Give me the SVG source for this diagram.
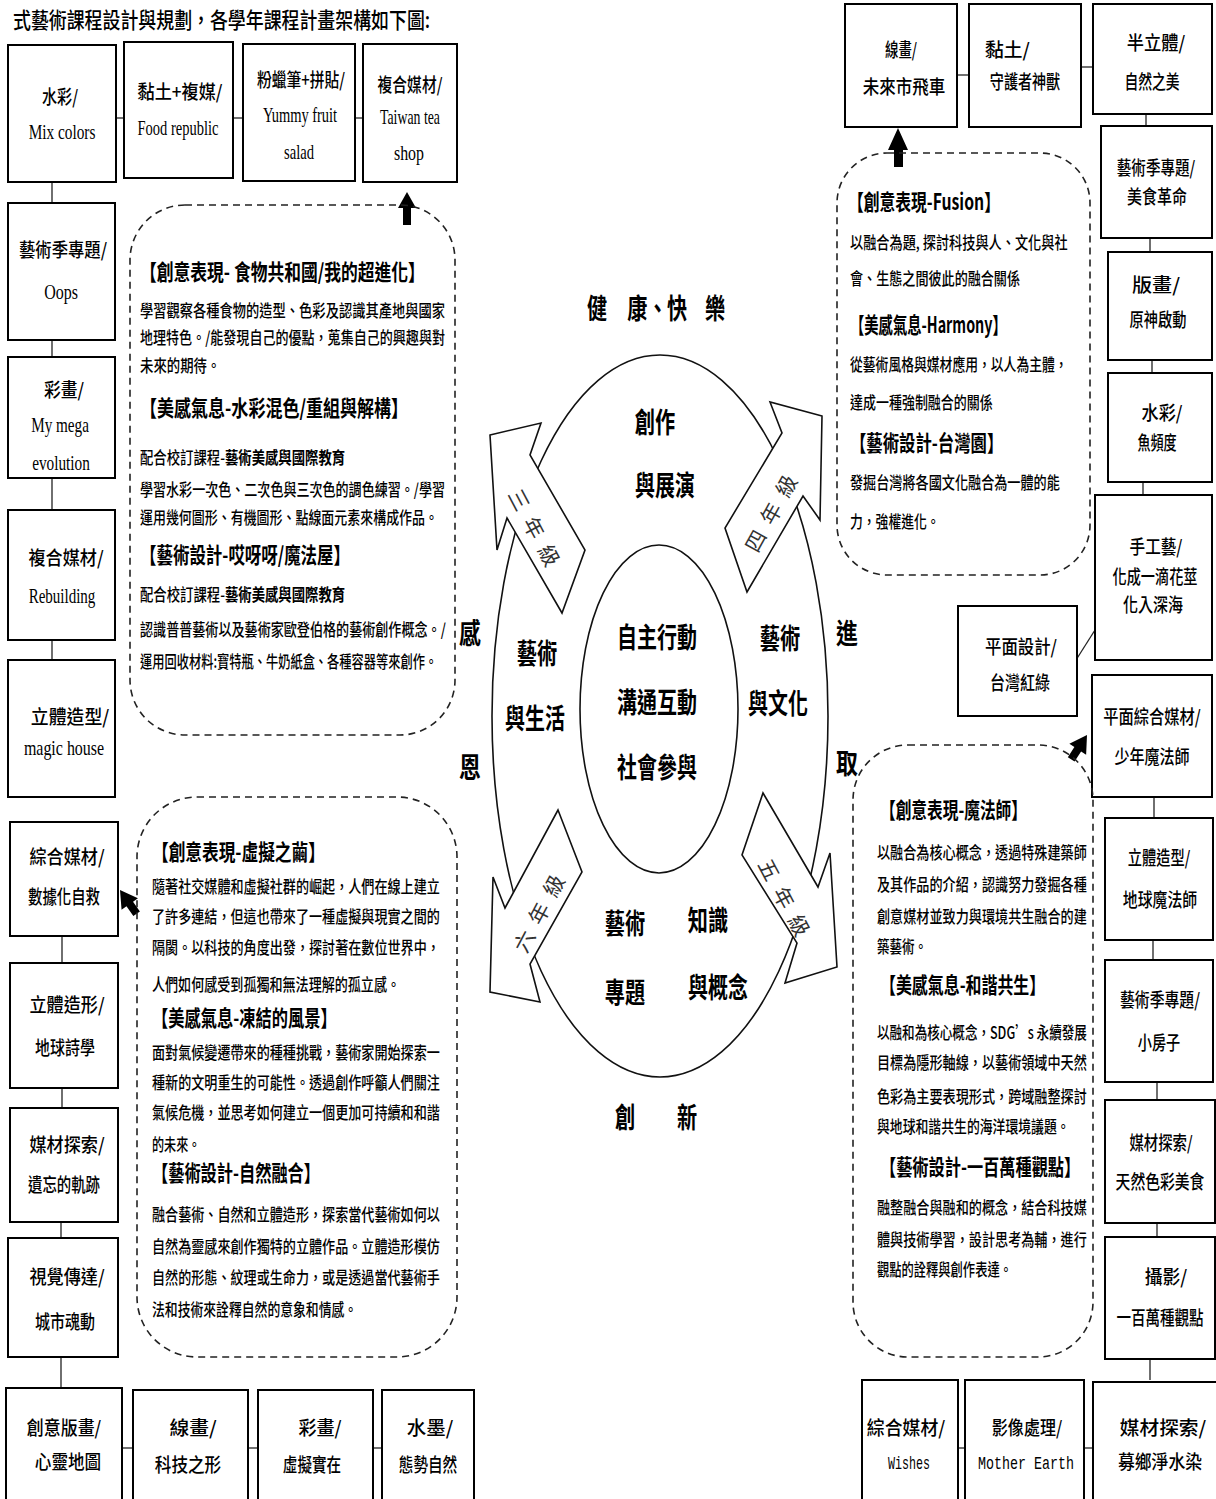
<svg xmlns="http://www.w3.org/2000/svg" width="1216" height="1499" viewBox="0 0 1216 1499">
<style>
.bg{fill:#fff}
.box{fill:#fff;stroke:#000;stroke-width:2}
.con{stroke:#222;stroke-width:1.3;fill:none}
.dash{fill:none;stroke:#222;stroke-width:1.6;stroke-dasharray:7 5}
.ell{fill:none;stroke:#111;stroke-width:1.6}
.blk{fill:#fff;stroke:#111;stroke-width:1.6}
.ar{fill:#000}
text{font-family:"Noto Sans CJK TC","Liberation Serif",serif;fill:#000}
.c{text-anchor:middle}
.b19{font-size:19px;font-weight:500}
.lat{font-family:"Liberation Serif","Noto Sans CJK TC",serif;font-size:21px}
.mono{font-family:"Liberation Mono","Noto Sans CJK TC",monospace;font-size:19px}
.tt{font-size:22px;font-weight:700}
.bd{font-size:17px;font-weight:500}
.cen{font-size:28px;font-weight:700}
.lab{font-size:21px;fill:#333;text-anchor:middle;dominant-baseline:central}
</style>
<rect class="bg" x="0" y="0" width="1216" height="1499"/>
<text transform="translate(13,28) scale(0.79,1)" font-size="22" font-weight="500" textLength="528" lengthAdjust="spacingAndGlyphs">式藝術課程設計與規劃，各學年課程計畫架構如下圖:</text>

<g id="connectors">
<line class="con" x1="116" y1="118" x2="124" y2="118"/>
<line class="con" x1="233" y1="118" x2="243" y2="118"/>
<line class="con" x1="355" y1="118" x2="363" y2="118"/>
<line class="con" x1="52" y1="182" x2="52" y2="203"/>
<line class="con" x1="52" y1="340" x2="52" y2="357"/>
<line class="con" x1="52" y1="478" x2="52" y2="510"/>
<line class="con" x1="52" y1="640" x2="52" y2="660"/>
<line class="con" x1="62" y1="936" x2="62" y2="963"/>
<line class="con" x1="62" y1="1088" x2="62" y2="1108"/>
<line class="con" x1="61" y1="1222" x2="61" y2="1238"/>
<line class="con" x1="61" y1="1357" x2="61" y2="1388"/>
<line class="con" x1="122" y1="1448" x2="133" y2="1448"/>
<line class="con" x1="248" y1="1448" x2="258" y2="1448"/>
<line class="con" x1="373" y1="1448" x2="382" y2="1448"/>
<line class="con" x1="957" y1="75" x2="969" y2="75"/>
<line class="con" x1="1081" y1="67" x2="1093" y2="67"/>
<line class="con" x1="1146" y1="114" x2="1146" y2="126"/>
<line class="con" x1="1150" y1="238" x2="1150" y2="252"/>
<line class="con" x1="1152" y1="360" x2="1152" y2="373"/>
<line class="con" x1="1143" y1="482" x2="1143" y2="495"/>
<line class="con" x1="1095" y1="630" x2="1076" y2="660"/>
<line class="con" x1="1154" y1="797" x2="1154" y2="818"/>
<line class="con" x1="1153" y1="940" x2="1153" y2="960"/>
<line class="con" x1="1157" y1="1082" x2="1157" y2="1100"/>
<line class="con" x1="1157" y1="1223" x2="1157" y2="1237"/>
<line class="con" x1="1150" y1="1359" x2="1150" y2="1380"/>
<line class="con" x1="958" y1="1448" x2="965" y2="1448"/>
<line class="con" x1="1084" y1="1448" x2="1093" y2="1448"/>
<polygon class="ar" points="407,192 416,208 411,208 411,225 403,225 403,208 398,208"/>
<polygon class="ar" points="898,128 908,150 903,150 903,167 894,167 894,150 888,150"/>
<polygon class="ar" transform="translate(1087,735) rotate(-57)" points="0,0 -17,-10 -17,-4 -29,-4 -29,4 -17,4 -17,10"/>
<polygon class="ar" transform="translate(120,890) rotate(-125)" points="0,0 -17,-10 -17,-4 -29,-4 -29,4 -17,4 -17,10"/>
</g>

<g id="n-mix"><rect class="box" x="8" y="45" width="108" height="137"/>
<text class="c b19" transform="translate(60,104) scale(0.8,1)" textLength="45" lengthAdjust="spacingAndGlyphs">水彩/</text>
<text class="c lat" transform="translate(62,139) scale(0.75,1)" textLength="89" lengthAdjust="spacingAndGlyphs">Mix colors</text></g>
<g id="n-food"><rect class="box" x="124" y="42" width="109" height="136"/>
<text class="c b19" transform="translate(180,99) scale(0.8,1)" textLength="106" lengthAdjust="spacingAndGlyphs">黏土+複媒/</text>
<text class="c lat" transform="translate(178,135) scale(0.75,1)" textLength="108" lengthAdjust="spacingAndGlyphs">Food republic</text></g>
<g id="n-yummy"><rect class="box" x="243" y="44" width="112" height="137"/>
<text class="c b19" transform="translate(301,87) scale(0.8,1)" textLength="110" lengthAdjust="spacingAndGlyphs">粉蠟筆+拼貼/</text>
<text class="c lat" transform="translate(300,122) scale(0.75,1)" textLength="99" lengthAdjust="spacingAndGlyphs">Yummy fruit</text>
<text class="c lat" transform="translate(299,159) scale(0.75,1)" textLength="40" lengthAdjust="spacingAndGlyphs">salad</text></g>
<g id="n-tea"><rect class="box" x="363" y="44" width="94" height="138"/>
<text class="c b19" transform="translate(410,92) scale(0.8,1)" textLength="81" lengthAdjust="spacingAndGlyphs">複合媒材/</text>
<text class="c lat" transform="translate(410,124) scale(0.75,1)" textLength="80" lengthAdjust="spacingAndGlyphs">Taiwan tea</text>
<text class="c lat" transform="translate(409,160) scale(0.75,1)" textLength="40" lengthAdjust="spacingAndGlyphs">shop</text></g>

<g id="n-oops"><rect class="box" x="8" y="203" width="107" height="137"/>
<text class="c b19" transform="translate(63,257) scale(0.8,1)" textLength="110" lengthAdjust="spacingAndGlyphs">藝術季專題/</text>
<text class="c lat" transform="translate(61,299) scale(0.75,1)" textLength="45" lengthAdjust="spacingAndGlyphs">Oops</text></g>
<g id="n-mega"><rect class="box" x="8" y="357" width="107" height="121"/>
<text class="c b19" transform="translate(64,397) scale(0.8,1)" textLength="50" lengthAdjust="spacingAndGlyphs">彩畫/</text>
<text class="c lat" transform="translate(60,432) scale(0.75,1)" textLength="77" lengthAdjust="spacingAndGlyphs">My mega</text>
<text class="c lat" transform="translate(61,470) scale(0.75,1)" textLength="77" lengthAdjust="spacingAndGlyphs">evolution</text></g>
<g id="n-rebuild"><rect class="box" x="8" y="510" width="107" height="130"/>
<text class="c b19" transform="translate(66,565) scale(0.8,1)" textLength="94" lengthAdjust="spacingAndGlyphs">複合媒材/</text>
<text class="c lat" transform="translate(62,603) scale(0.75,1)" textLength="89" lengthAdjust="spacingAndGlyphs">Rebuilding</text></g>
<g id="n-magic"><rect class="box" x="8" y="660" width="107" height="137"/>
<text class="c b19" transform="translate(70,724) scale(0.8,1)" textLength="98" lengthAdjust="spacingAndGlyphs">立體造型/</text>
<text class="c lat" transform="translate(64,755) scale(0.75,1)" textLength="107" lengthAdjust="spacingAndGlyphs">magic house</text></g>

<g id="n-data"><rect class="box" x="10" y="822" width="108" height="114"/>
<text class="c b19" transform="translate(67,864) scale(0.8,1)" textLength="94" lengthAdjust="spacingAndGlyphs">綜合媒材/</text>
<text class="c b19" transform="translate(64,904) scale(0.8,1)" textLength="90" lengthAdjust="spacingAndGlyphs">數據化自救</text></g>
<g id="n-poetic"><rect class="box" x="10" y="963" width="108" height="125"/>
<text class="c b19" transform="translate(67,1012) scale(0.8,1)" textLength="94" lengthAdjust="spacingAndGlyphs">立體造形/</text>
<text class="c b19" transform="translate(65,1055) scale(0.8,1)" textLength="75" lengthAdjust="spacingAndGlyphs">地球詩學</text></g>
<g id="n-track"><rect class="box" x="10" y="1108" width="108" height="114"/>
<text class="c b19" transform="translate(67,1152) scale(0.8,1)" textLength="94" lengthAdjust="spacingAndGlyphs">媒材探索/</text>
<text class="c b19" transform="translate(64,1192) scale(0.8,1)" textLength="90" lengthAdjust="spacingAndGlyphs">遺忘的軌跡</text></g>
<g id="n-city"><rect class="box" x="8" y="1238" width="110" height="119"/>
<text class="c b19" transform="translate(67,1284) scale(0.8,1)" textLength="94" lengthAdjust="spacingAndGlyphs">視覺傳達/</text>
<text class="c b19" transform="translate(65,1329) scale(0.8,1)" textLength="75" lengthAdjust="spacingAndGlyphs">城市魂動</text></g>

<g id="n-map"><rect class="box" x="6" y="1388" width="116" height="125"/>
<text class="c b19" transform="translate(64,1435) scale(0.8,1)" textLength="93" lengthAdjust="spacingAndGlyphs">創意版畫/</text>
<text class="c b19" transform="translate(68,1469) scale(0.8,1)" textLength="83" lengthAdjust="spacingAndGlyphs">心靈地圖</text></g>
<g id="n-tech"><rect class="box" x="133" y="1390" width="115" height="125"/>
<text class="c b19" transform="translate(193,1435) scale(0.8,1)" textLength="59" lengthAdjust="spacingAndGlyphs">線畫/</text>
<text class="c b19" transform="translate(188,1472) scale(0.8,1)" textLength="83" lengthAdjust="spacingAndGlyphs">科技之形</text></g>
<g id="n-virtual"><rect class="box" x="258" y="1390" width="115" height="125"/>
<text class="c b19" transform="translate(320,1435) scale(0.8,1)" textLength="54" lengthAdjust="spacingAndGlyphs">彩畫/</text>
<text class="c b19" transform="translate(312,1472) scale(0.8,1)" textLength="73" lengthAdjust="spacingAndGlyphs">虛擬實在</text></g>
<g id="n-ink"><rect class="box" x="382" y="1390" width="92" height="125"/>
<text class="c b19" transform="translate(430,1435) scale(0.8,1)" textLength="58" lengthAdjust="spacingAndGlyphs">水墨/</text>
<text class="c b19" transform="translate(428,1472) scale(0.8,1)" textLength="73" lengthAdjust="spacingAndGlyphs">態勢自然</text></g>

<g id="n-wishes"><rect class="box" x="862" y="1380" width="96" height="135"/>
<text class="c b19" transform="translate(906,1435) scale(0.8,1)" textLength="98" lengthAdjust="spacingAndGlyphs">綜合媒材/</text>
<text class="c mono" transform="translate(909,1469) scale(0.75,1)" textLength="56" lengthAdjust="spacingAndGlyphs">Wishes</text></g>
<g id="n-earth"><rect class="box" x="965" y="1380" width="119" height="135"/>
<text class="c b19" transform="translate(1027,1435) scale(0.8,1)" textLength="88" lengthAdjust="spacingAndGlyphs">影像處理/</text>
<text class="c mono" transform="translate(1026,1469) scale(0.75,1)" textLength="128" lengthAdjust="spacingAndGlyphs">Mother Earth</text></g>
<g id="n-dye"><rect class="box" x="1093" y="1382" width="125" height="135"/>
<text class="c b19" transform="translate(1163,1435) scale(0.8,1)" textLength="108" lengthAdjust="spacingAndGlyphs">媒材探索/</text>
<text class="c b19" transform="translate(1160,1469) scale(0.8,1)" textLength="105" lengthAdjust="spacingAndGlyphs">募鄉淨水染</text></g>

<g id="n-car"><rect class="box" x="845" y="4" width="112" height="123"/>
<text class="c b19" transform="translate(901,57) scale(0.8,1)" textLength="40" lengthAdjust="spacingAndGlyphs">線畫/</text>
<text class="c b19" transform="translate(904,94) scale(0.8,1)" textLength="103" lengthAdjust="spacingAndGlyphs">未來市飛車</text></g>
<g id="n-guard"><rect class="box" x="969" y="4" width="112" height="123"/>
<text class="b19" transform="translate(985,57) scale(0.8,1)" textLength="56" lengthAdjust="spacingAndGlyphs">黏土/</text>
<text class="c b19" transform="translate(1025,89) scale(0.8,1)" textLength="88" lengthAdjust="spacingAndGlyphs">守護者神獸</text></g>
<g id="n-nature"><rect class="box" x="1093" y="4" width="119" height="110"/>
<text class="c b19" transform="translate(1156,50) scale(0.8,1)" textLength="73" lengthAdjust="spacingAndGlyphs">半立體/</text>
<text class="c b19" transform="translate(1152,89) scale(0.8,1)" textLength="69" lengthAdjust="spacingAndGlyphs">自然之美</text></g>
<g id="n-food2"><rect class="box" x="1101" y="126" width="111" height="112"/>
<text class="c b19" transform="translate(1156,175) scale(0.8,1)" textLength="98" lengthAdjust="spacingAndGlyphs">藝術季專題/</text>
<text class="c b19" transform="translate(1157,204) scale(0.8,1)" textLength="75" lengthAdjust="spacingAndGlyphs">美食革命</text></g>
<g id="n-print"><rect class="box" x="1108" y="252" width="104" height="108"/>
<text class="c b19" transform="translate(1156,292) scale(0.8,1)" textLength="60" lengthAdjust="spacingAndGlyphs">版畫/</text>
<text class="c b19" transform="translate(1158,327) scale(0.8,1)" textLength="71" lengthAdjust="spacingAndGlyphs">原神啟動</text></g>
<g id="n-fish"><rect class="box" x="1108" y="373" width="104" height="109"/>
<text class="c b19" transform="translate(1162,420) scale(0.8,1)" textLength="51" lengthAdjust="spacingAndGlyphs">水彩/</text>
<text class="c b19" transform="translate(1157,450) scale(0.8,1)" textLength="49" lengthAdjust="spacingAndGlyphs">魚頻度</text></g>
<g id="n-craft"><rect class="box" x="1095" y="495" width="117" height="165"/>
<text class="c b19" transform="translate(1156,554) scale(0.8,1)" textLength="66" lengthAdjust="spacingAndGlyphs">手工藝/</text>
<text class="c b19" transform="translate(1155,584) scale(0.8,1)" textLength="106" lengthAdjust="spacingAndGlyphs">化成一滴花莖</text>
<text class="c b19" transform="translate(1153,612) scale(0.8,1)" textLength="75" lengthAdjust="spacingAndGlyphs">化入深海</text></g>
<g id="n-redgreen"><rect class="box" x="958" y="606" width="119" height="110"/>
<text class="c b19" transform="translate(1021,654) scale(0.8,1)" textLength="90" lengthAdjust="spacingAndGlyphs">平面設計/</text>
<text class="c b19" transform="translate(1020,690) scale(0.8,1)" textLength="75" lengthAdjust="spacingAndGlyphs">台灣紅綠</text></g>
<g id="n-wizard"><rect class="box" x="1092" y="675" width="120" height="122"/>
<text class="c b19" transform="translate(1152,724) scale(0.8,1)" textLength="122" lengthAdjust="spacingAndGlyphs">平面綜合媒材/</text>
<text class="c b19" transform="translate(1152,764) scale(0.8,1)" textLength="94" lengthAdjust="spacingAndGlyphs">少年魔法師</text></g>
<g id="n-earthwiz"><rect class="box" x="1105" y="818" width="108" height="122"/>
<text class="c b19" transform="translate(1159,865) scale(0.8,1)" textLength="78" lengthAdjust="spacingAndGlyphs">立體造型/</text>
<text class="c b19" transform="translate(1160,907) scale(0.8,1)" textLength="93" lengthAdjust="spacingAndGlyphs">地球魔法師</text></g>
<g id="n-house"><rect class="box" x="1105" y="960" width="108" height="122"/>
<text class="c b19" transform="translate(1160,1007) scale(0.8,1)" textLength="100" lengthAdjust="spacingAndGlyphs">藝術季專題/</text>
<text class="c b19" transform="translate(1159,1050) scale(0.8,1)" textLength="53" lengthAdjust="spacingAndGlyphs">小房子</text></g>
<g id="n-colorfood"><rect class="box" x="1105" y="1100" width="110" height="123"/>
<text class="c b19" transform="translate(1161,1150) scale(0.8,1)" textLength="79" lengthAdjust="spacingAndGlyphs">媒材探索/</text>
<text class="c b19" transform="translate(1160,1189) scale(0.8,1)" textLength="111" lengthAdjust="spacingAndGlyphs">天然色彩美食</text></g>
<g id="n-photo"><rect class="box" x="1105" y="1237" width="110" height="122"/>
<text class="c b19" transform="translate(1166,1284) scale(0.8,1)" textLength="53" lengthAdjust="spacingAndGlyphs">攝影/</text>
<text class="c b19" transform="translate(1160,1325) scale(0.8,1)" textLength="109" lengthAdjust="spacingAndGlyphs">一百萬種觀點</text></g>

<g id="d-grade3">
<rect class="dash" x="130" y="205" width="325" height="530" rx="55" ry="55"/>
<text class="tt" transform="translate(140,280) scale(0.7,1)" textLength="407" lengthAdjust="spacingAndGlyphs">【創意表現- 食物共和國/我的超進化】</text>
<text class="bd" transform="translate(140,317) scale(0.78,1)" textLength="391" lengthAdjust="spacingAndGlyphs">學習觀察各種食物的造型、色彩及認識其產地與國家</text>
<text class="bd" transform="translate(140,344) scale(0.78,1)" textLength="391" lengthAdjust="spacingAndGlyphs">地理特色。/能發現自己的優點，蒐集自己的興趣與對</text>
<text class="bd" transform="translate(140,372) scale(0.78,1)" textLength="103" lengthAdjust="spacingAndGlyphs">未來的期待。</text>
<text class="tt" transform="translate(140,416) scale(0.7,1)" textLength="383" lengthAdjust="spacingAndGlyphs">【美感氣息-水彩混色/重組與解構】</text>
<text class="bd" transform="translate(140,464) scale(0.78,1)" textLength="263" lengthAdjust="spacingAndGlyphs">配合校訂課程-<tspan font-weight="700">藝術美感與國際教育</tspan></text>
<text class="bd" transform="translate(140,496) scale(0.78,1)" textLength="391" lengthAdjust="spacingAndGlyphs">學習水彩一次色、二次色與三次色的調色練習。/學習</text>
<text class="bd" transform="translate(140,524) scale(0.78,1)" textLength="382" lengthAdjust="spacingAndGlyphs">運用幾何圖形、有機圖形、點線面元素來構成作品。</text>
<text class="tt" transform="translate(140,563) scale(0.7,1)" textLength="300" lengthAdjust="spacingAndGlyphs">【藝術設計-哎呀呀/魔法屋】</text>
<text class="bd" transform="translate(140,601) scale(0.78,1)" textLength="263" lengthAdjust="spacingAndGlyphs">配合校訂課程-<tspan font-weight="700">藝術美感與國際教育</tspan></text>
<text class="bd" transform="translate(140,636) scale(0.78,1)" textLength="392" lengthAdjust="spacingAndGlyphs">認識普普藝術以及藝術家歐登伯格的藝術創作概念。/</text>
<text class="bd" transform="translate(140,668) scale(0.78,1)" textLength="381" lengthAdjust="spacingAndGlyphs">運用回收材料:寶特瓶、牛奶紙盒、各種容器等來創作。</text>
</g>

<g id="d-grade4">
<rect class="dash" x="837" y="153" width="253" height="422" rx="50" ry="50"/>
<text class="tt" transform="translate(848,210) scale(0.7,1)" textLength="217" lengthAdjust="spacingAndGlyphs">【創意表現-Fusion】</text>
<text class="bd" transform="translate(850,249) scale(0.78,1)" textLength="279" lengthAdjust="spacingAndGlyphs">以融合為題, 探討科技與人、文化與社</text>
<text class="bd" transform="translate(850,285) scale(0.78,1)" textLength="218" lengthAdjust="spacingAndGlyphs">會、生態之間彼此的融合關係</text>
<text class="tt" transform="translate(850,333) scale(0.7,1)" textLength="224" lengthAdjust="spacingAndGlyphs">【美感氣息-Harmony】</text>
<text class="bd" transform="translate(850,371) scale(0.78,1)" textLength="279" lengthAdjust="spacingAndGlyphs">從藝術風格與媒材應用，以人為主體，</text>
<text class="bd" transform="translate(850,409) scale(0.78,1)" textLength="183" lengthAdjust="spacingAndGlyphs">達成一種強制融合的關係</text>
<text class="tt" transform="translate(850,451) scale(0.7,1)" textLength="219" lengthAdjust="spacingAndGlyphs">【藝術設計-台灣園】</text>
<text class="bd" transform="translate(850,489) scale(0.78,1)" textLength="269" lengthAdjust="spacingAndGlyphs">發掘台灣將各國文化融合為一體的能</text>
<text class="bd" transform="translate(850,528) scale(0.78,1)" textLength="115" lengthAdjust="spacingAndGlyphs">力，強權進化。</text>
</g>

<g id="d-grade5">
<rect class="dash" x="853" y="745" width="240" height="612" rx="55" ry="55"/>
<text class="tt" transform="translate(880,818) scale(0.7,1)" textLength="210" lengthAdjust="spacingAndGlyphs">【創意表現-魔法師】</text>
<text class="bd" transform="translate(877,859) scale(0.78,1)" textLength="269" lengthAdjust="spacingAndGlyphs">以融合為核心概念，透過特殊建築師</text>
<text class="bd" transform="translate(877,891) scale(0.78,1)" textLength="269" lengthAdjust="spacingAndGlyphs">及其作品的介紹，認識努力發掘各種</text>
<text class="bd" transform="translate(877,923) scale(0.78,1)" textLength="269" lengthAdjust="spacingAndGlyphs">創意媒材並致力與環境共生融合的建</text>
<text class="bd" transform="translate(877,953) scale(0.78,1)" textLength="64" lengthAdjust="spacingAndGlyphs">築藝術。</text>
<text class="tt" transform="translate(880,993) scale(0.7,1)" textLength="236" lengthAdjust="spacingAndGlyphs">【美感氣息-和諧共生】</text>
<text class="bd" transform="translate(877,1039) scale(0.78,1)" textLength="269" lengthAdjust="spacingAndGlyphs">以融和為核心概念，SDG’s 永續發展</text>
<text class="bd" transform="translate(877,1069) scale(0.78,1)" textLength="269" lengthAdjust="spacingAndGlyphs">目標為隱形軸線，以藝術領域中天然</text>
<text class="bd" transform="translate(877,1103) scale(0.78,1)" textLength="269" lengthAdjust="spacingAndGlyphs">色彩為主要表現形式，跨域融整探討</text>
<text class="bd" transform="translate(877,1133) scale(0.78,1)" textLength="247" lengthAdjust="spacingAndGlyphs">與地球和諧共生的海洋環境議題。</text>
<text class="tt" transform="translate(880,1175) scale(0.7,1)" textLength="286" lengthAdjust="spacingAndGlyphs">【藝術設計-一百萬種觀點】</text>
<text class="bd" transform="translate(877,1214) scale(0.78,1)" textLength="269" lengthAdjust="spacingAndGlyphs">融整融合與融和的概念，結合科技媒</text>
<text class="bd" transform="translate(877,1246) scale(0.78,1)" textLength="269" lengthAdjust="spacingAndGlyphs">體與技術學習，設計思考為輔，進行</text>
<text class="bd" transform="translate(877,1276) scale(0.78,1)" textLength="173" lengthAdjust="spacingAndGlyphs">觀點的詮釋與創作表達。</text>
</g>

<g id="d-grade6">
<rect class="dash" x="137" y="797" width="320" height="560" rx="60" ry="60"/>
<text class="tt" transform="translate(152,860) scale(0.7,1)" textLength="247" lengthAdjust="spacingAndGlyphs">【創意表現-虛擬之繭】</text>
<text class="bd" transform="translate(152,893) scale(0.78,1)" textLength="369" lengthAdjust="spacingAndGlyphs">隨著社交媒體和虛擬社群的崛起，人們在線上建立</text>
<text class="bd" transform="translate(152,923) scale(0.78,1)" textLength="369" lengthAdjust="spacingAndGlyphs">了許多連結，但這也帶來了一種虛擬與現實之間的</text>
<text class="bd" transform="translate(152,954) scale(0.78,1)" textLength="369" lengthAdjust="spacingAndGlyphs">隔閡。以科技的角度出發，探討著在數位世界中，</text>
<text class="bd" transform="translate(152,991) scale(0.78,1)" textLength="318" lengthAdjust="spacingAndGlyphs">人們如何感受到孤獨和無法理解的孤立感。</text>
<text class="tt" transform="translate(152,1026) scale(0.7,1)" textLength="264" lengthAdjust="spacingAndGlyphs">【美感氣息-凍結的風景】</text>
<text class="bd" transform="translate(152,1059) scale(0.78,1)" textLength="369" lengthAdjust="spacingAndGlyphs">面對氣候變遷帶來的種種挑戰，藝術家開始探索一</text>
<text class="bd" transform="translate(152,1089) scale(0.78,1)" textLength="369" lengthAdjust="spacingAndGlyphs">種新的文明重生的可能性。透過創作呼籲人們關注</text>
<text class="bd" transform="translate(152,1119) scale(0.78,1)" textLength="369" lengthAdjust="spacingAndGlyphs">氣候危機，並思考如何建立一個更加可持續和和諧</text>
<text class="bd" transform="translate(152,1151) scale(0.78,1)" textLength="62" lengthAdjust="spacingAndGlyphs">的未來。</text>
<text class="tt" transform="translate(152,1181) scale(0.7,1)" textLength="240" lengthAdjust="spacingAndGlyphs">【藝術設計-自然融合】</text>
<text class="bd" transform="translate(152,1221) scale(0.78,1)" textLength="369" lengthAdjust="spacingAndGlyphs">融合藝術、自然和立體造形，探索當代藝術如何以</text>
<text class="bd" transform="translate(152,1253) scale(0.78,1)" textLength="369" lengthAdjust="spacingAndGlyphs">自然為靈感來創作獨特的立體作品。立體造形模仿</text>
<text class="bd" transform="translate(152,1284) scale(0.78,1)" textLength="369" lengthAdjust="spacingAndGlyphs">自然的形態、紋理或生命力，或是透過當代藝術手</text>
<text class="bd" transform="translate(152,1316) scale(0.78,1)" textLength="263" lengthAdjust="spacingAndGlyphs">法和技術來詮釋自然的意象和情感。</text>
</g>

<g id="center">
<text class="cen" transform="translate(587,319) scale(0.72,1)"><tspan x="0" y="0">健</tspan><tspan x="56" y="0">康、</tspan><tspan x="111" y="0">快</tspan><tspan x="164" y="0">樂</tspan></text>
<ellipse class="ell" cx="660" cy="716" rx="168" ry="361"/>
<ellipse class="ell" cx="659" cy="709" rx="79" ry="164"/>
<polygon class="blk" points="490,435 541,423 530,455 585,550 562,613 507,518 497,550"/>
<polygon class="blk" points="822,416 770,402 782,433 725,528 747,592 803,496 820,520"/>
<polygon class="blk" points="763,793 818,887 830,853 837,967 785,983 797,943 742,855"/>
<polygon class="blk" points="558,810 582,872 530,964 540,1002 490,992 493,877 505,908"/>
<text class="lab" transform="translate(535,527) rotate(62)" textLength="84">三年級</text>
<text class="lab" transform="translate(770,513) rotate(-61)" textLength="84">四年級</text>
<text class="lab" transform="translate(785,897) rotate(62)" textLength="84">五年級</text>
<text class="lab" transform="translate(538,913) rotate(-62)" textLength="84">六年級</text>
<text class="cen c" transform="translate(655,433) scale(0.72,1)" textLength="56" lengthAdjust="spacingAndGlyphs">創作</text>
<text class="cen c" transform="translate(665,496) scale(0.72,1)" textLength="83" lengthAdjust="spacingAndGlyphs">與展演</text>
<text class="cen c" transform="translate(657,648) scale(0.72,1)" textLength="111" lengthAdjust="spacingAndGlyphs">自主行動</text>
<text class="cen c" transform="translate(657,713) scale(0.72,1)" textLength="111" lengthAdjust="spacingAndGlyphs">溝通互動</text>
<text class="cen c" transform="translate(657,778) scale(0.72,1)" textLength="111" lengthAdjust="spacingAndGlyphs">社會參與</text>
<text class="cen c" transform="translate(537,664) scale(0.72,1)" textLength="56" lengthAdjust="spacingAndGlyphs">藝術</text>
<text class="cen c" transform="translate(535,729) scale(0.72,1)" textLength="83" lengthAdjust="spacingAndGlyphs">與生活</text>
<text class="cen c" transform="translate(780,649) scale(0.72,1)" textLength="56" lengthAdjust="spacingAndGlyphs">藝術</text>
<text class="cen c" transform="translate(778,714) scale(0.72,1)" textLength="83" lengthAdjust="spacingAndGlyphs">與文化</text>
<text class="cen c" transform="translate(625,934) scale(0.72,1)" textLength="56" lengthAdjust="spacingAndGlyphs">藝術</text>
<text class="cen c" transform="translate(625,1003) scale(0.72,1)" textLength="56" lengthAdjust="spacingAndGlyphs">專題</text>
<text class="cen c" transform="translate(708,931) scale(0.72,1)" textLength="56" lengthAdjust="spacingAndGlyphs">知識</text>
<text class="cen c" transform="translate(718,998) scale(0.72,1)" textLength="83" lengthAdjust="spacingAndGlyphs">與概念</text>
<text class="cen" transform="translate(615,1128) scale(0.72,1)"><tspan x="0" y="0">創</tspan><tspan x="86" y="0">新</tspan></text>
<text class="cen c" transform="translate(470,644) scale(0.78,1)">感</text>
<text class="cen c" transform="translate(470,778) scale(0.78,1)">恩</text>
<text class="cen c" transform="translate(847,644) scale(0.78,1)">進</text>
<text class="cen c" transform="translate(847,774) scale(0.78,1)">取</text>
</g>
</svg>
